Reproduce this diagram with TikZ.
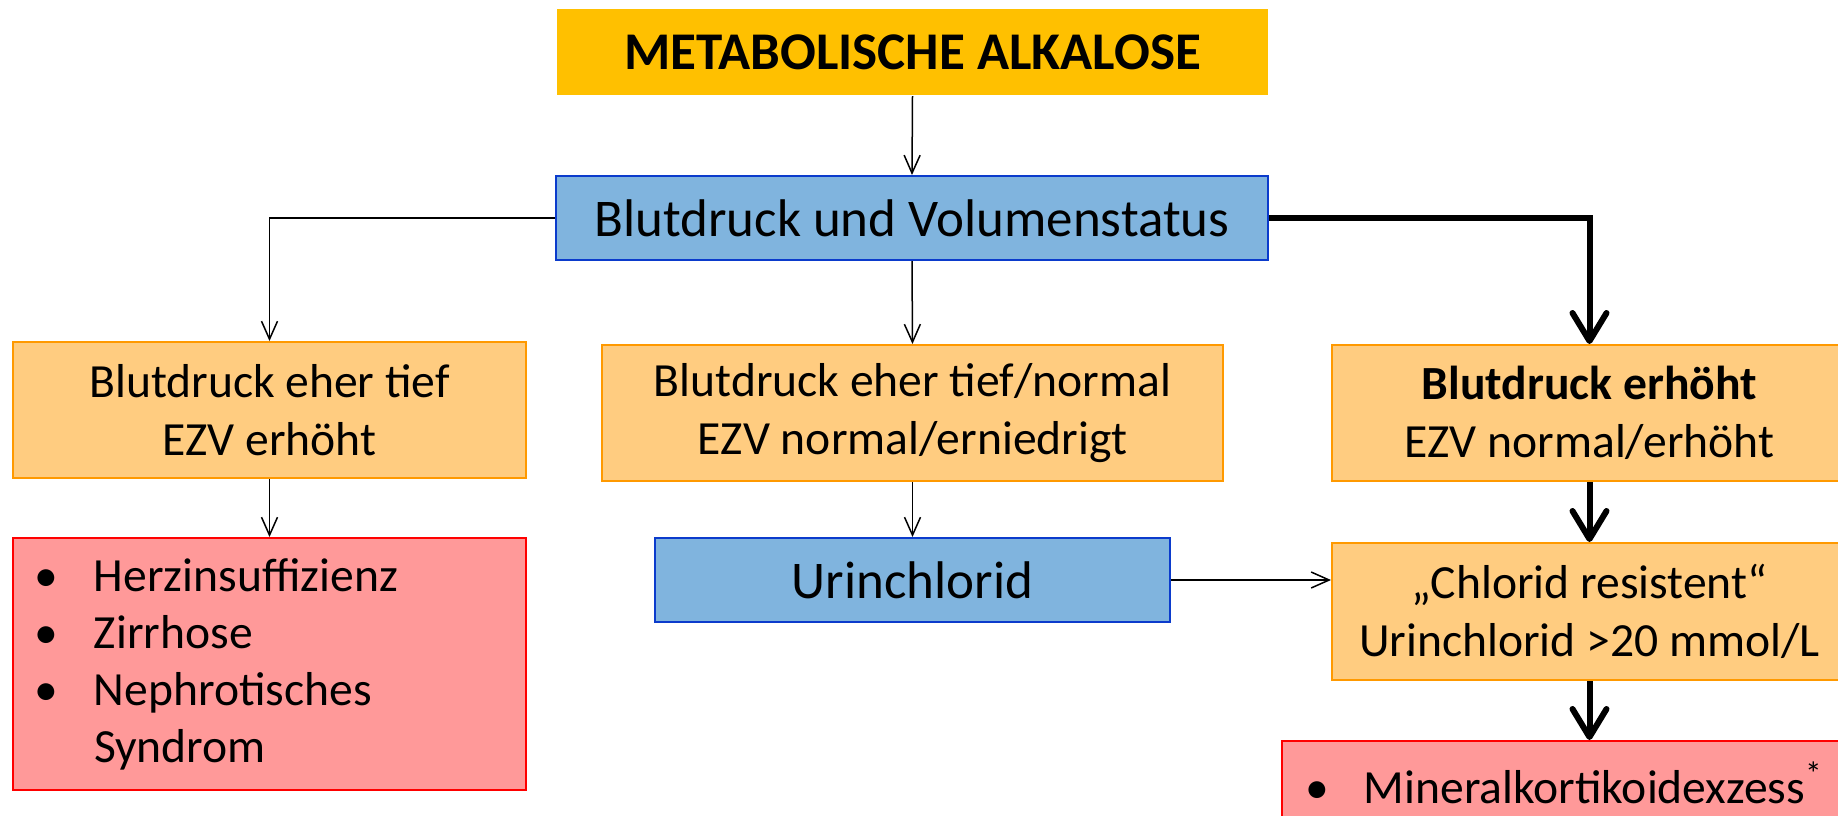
\documentclass[tikz,border=0pt]{standalone}
\usepackage{fontspec}
\setmainfont{Carlito}
\usetikzlibrary{arrows.meta}
\definecolor{titlefill}{HTML}{FFC000}
\definecolor{bluefill}{HTML}{80B4DE}
\definecolor{blueline}{HTML}{0B3BCC}
\definecolor{orangefill}{HTML}{FFCC80}
\definecolor{orangeline}{HTML}{FF9900}
\definecolor{redfill}{HTML}{FF9999}
\definecolor{redline}{HTML}{FF0000}
\begin{document}
\begin{tikzpicture}[x=0.5pt,y=-0.5pt,
  box/.style={line width=1pt, inner sep=0pt, align=center},
  titlebox/.style={box, fill=titlefill, draw=none, font=\fontsize{26.5}{32}\selectfont\bfseries},
  bluebox/.style={box, fill=bluefill, draw=blueline, font=\fontsize{26.5}{32}\selectfont},
  orangebox/.style={box, fill=orangefill, draw=orangeline, font=\fontsize{23.8}{29.3}\selectfont},
  redbox/.style={box, fill=redfill, draw=redline, align=left, font=\fontsize{23.8}{28.5}\selectfont},
  thinarrow/.style={line width=0.75pt, -{Straight Barb[length=9pt,width=8pt]}},
  thickarrow/.style={line width=3pt, -{Straight Barb[length=14pt,width=17pt,round]}}
]
\useasboundingbox (0,0) rectangle (1838,815);
\clip (0,0) rectangle (1838,815);
\fill[white] (0,0) rectangle (1838,815);

\node[titlebox, minimum width=355.5pt, minimum height=43pt] (title) at (912.5,52) {METABOLISCHE ALKALOSE};
\node[bluebox, minimum width=356pt, minimum height=42pt] (bp) at (912,218) {Blutdruck und Volumenstatus};

\node[orangebox, minimum width=256.5pt, minimum height=68pt] (lo) at (269.5,410) {Blutdruck eher tief\\EZV erhöht};
\node[orangebox, minimum width=310.5pt, minimum height=68pt] (mo) at (912.5,413) {Blutdruck eher tief/normal\\EZV normal/erniedrigt};
\node[orangebox, minimum width=257.5pt, minimum height=68pt] (ro) at (1589.5,413) {\textbf{Blutdruck erhöht}\\EZV normal/erhöht};

\node[redbox, minimum width=256.5pt, minimum height=126pt, inner xsep=10.5pt, text width=235.5pt] (lr) at (269.5,664)
  {\makebox[30pt][l]{•}Herzinsuffizienz\\\makebox[30pt][l]{•}Zirrhose\\\makebox[30pt][l]{•}Nephrotisches\\\hspace*{30pt}Syndrom};
\node[bluebox, minimum width=257.5pt, minimum height=42pt] (uc) at (912.5,580) {Urinchlorid};
\node[orangebox, minimum width=257.5pt, minimum height=68.5pt] (cr) at (1589.5,611.5) {„Chlorid resistent“\\Urinchlorid >20 mmol/L};
\node[redbox, minimum width=307.5pt, minimum height=42pt, inner xsep=11.5pt, text width=284.5pt] (br) at (1589.5,783)
  {\makebox[29.5pt][l]{•}Mineralkortikoidexzess\textsuperscript{*}};

\draw[thinarrow] (title.south) -- (bp.north);
\draw[thinarrow] (bp.west) -| (lo.north);
\draw[thinarrow] (bp.south) -- (mo.north);
\draw[thickarrow] (bp.east) -| (ro.north);
\draw[thinarrow] (lo.south) -- (lr.north);
\draw[thinarrow] (mo.south) -- (uc.north);
\draw[thinarrow] (uc.east) -- (uc.east -| cr.west);
\draw[thickarrow] (ro.south) -- (cr.north);
\draw[thickarrow] (cr.south) -- (br.north);
\end{tikzpicture}
\end{document}
